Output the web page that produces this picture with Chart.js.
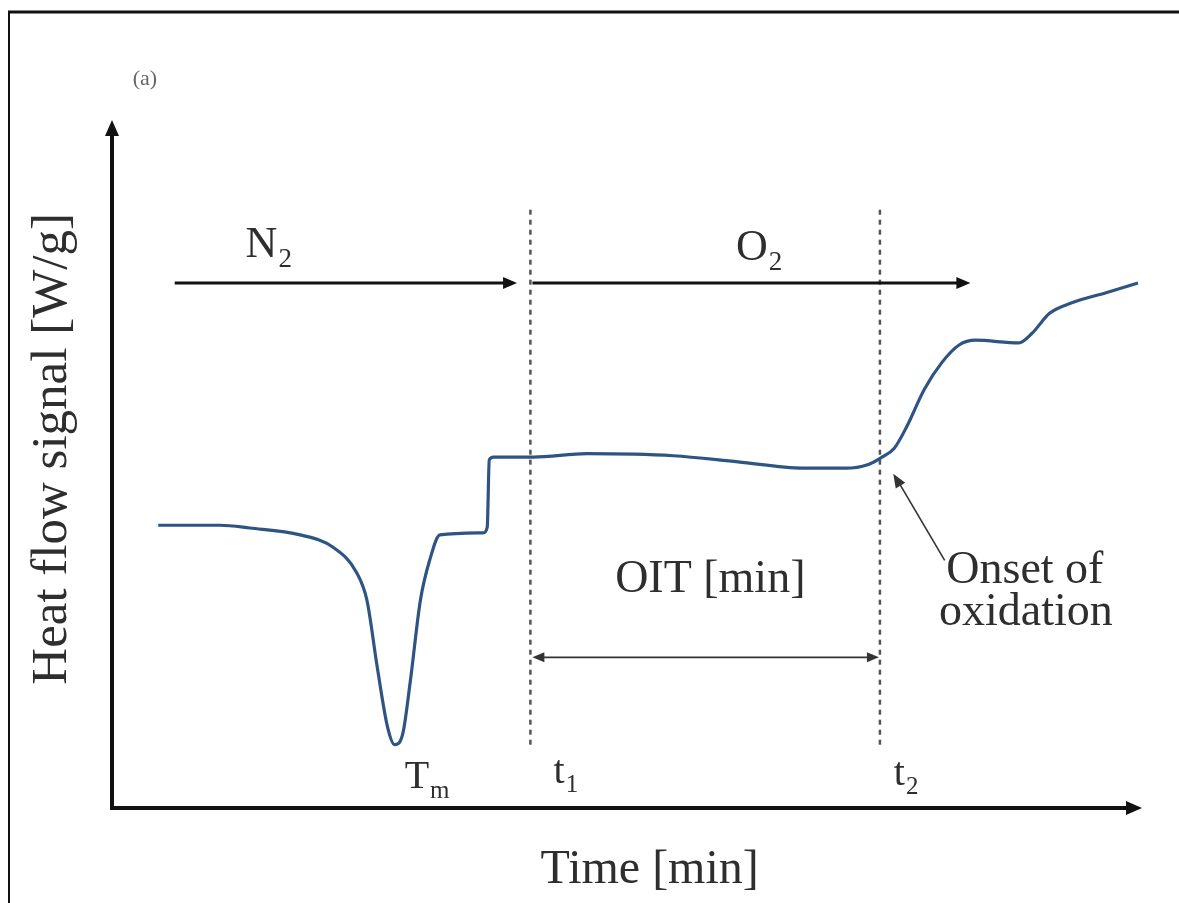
<!DOCTYPE html>
<html>
<head>
<meta charset="utf-8">
<script src="https://cdn.jsdelivr.net/npm/chart.js@4.4.1/dist/chart.umd.min.js"></script>
<style>
  html, body { margin: 0; padding: 0; background: #fff; }
  #box { width: 1179px; height: 903px; position: relative; }
</style>
</head>
<body>
<div id="box"><canvas id="myChart"></canvas></div>
<script>

//------------------------------------------------------------------
// data (time / heat flow, arbitrary units 0..100)

var time_vals = [4.5, 10.5, 13.4, 18.3, 21.5, 23.8, 24.8, 25.8, 26.8, 27.5, 28.3, 29.0, 30.0, 30.9, 31.9,
                 36.1, 36.5, 36.7, 37.1, 41.0, 46.2, 54.6, 60.9, 67.2, 71.4, 73.5, 74.8, 76.1, 77.3,
                 79.0, 80.7, 82.4, 84.0, 88.2, 89.5, 91.2, 93.3, 96.7, 99.8];
var heat_vals = [41.1, 41.1, 40.7, 39.7, 37.9, 34.2, 30.2, 20.5, 11.8, 9.2, 10.9, 18.2, 30.2, 36.0, 39.7,
                 40.0, 40.8, 50.6, 51.0, 51.0, 51.5, 51.2, 50.3, 49.4, 49.4, 49.9, 50.9, 52.3, 55.4,
                 60.8, 64.7, 67.3, 68.0, 67.6, 69.0, 71.9, 73.4, 74.9, 76.3];

var marker_times = [40.7, 74.7];     // t1, t2
var marker_span = [9.2, 87.2];       // dashed line from / to

var gas_arrows = [[6.1, 39.4, 76.3], [40.9, 83.5, 76.3]];   // [from, to, level]
var oit_level = 21.9;

var x_max = 100, y_max = 100;

//------------------------------------------------------------------

var serif = "'Liberation Serif', 'DejaVu Serif', serif";
var text_col = "#2e2e2e";

function make_points(xs, ys){
    let pts = [];
    for (let i = 0; i < xs.length; i++) {
        pts.push({x: xs[i], y: ys[i]});
    }
    return pts;
}

function arrow_head(ctx, x, y, ang, len, wid){
    ctx.save();
    ctx.translate(x, y);
    ctx.rotate(ang);
    ctx.beginPath();
    ctx.moveTo(0, 0);
    ctx.lineTo(-len, -wid/2);
    ctx.lineTo(-len, wid/2);
    ctx.closePath();
    ctx.fill();
    ctx.restore();
}

function draw_line(ctx, x1, y1, x2, y2, w){
    ctx.lineWidth = w;
    ctx.beginPath();
    ctx.moveTo(x1, y1);
    ctx.lineTo(x2, y2);
    ctx.stroke();
}

// text with a subscript, centred on x
function sub_text(ctx, main, sub, x, y, size){
    ctx.font = size + "px " + serif;
    let w1 = ctx.measureText(main).width;
    ctx.font = Math.round(size*0.62) + "px " + serif;
    let w2 = ctx.measureText(sub).width;
    let left = x - (w1 + w2)/2;
    ctx.textAlign = "left";
    ctx.textBaseline = "middle";
    ctx.font = size + "px " + serif;
    ctx.fillText(main, left, y);
    ctx.font = Math.round(size*0.62) + "px " + serif;
    ctx.fillText(sub, left + w1 + 1, y + size*0.34);
}

const sketch_plugin = {
    id: "sketch",
    afterDraw(chart){
        const ctx = chart.ctx;
        const xs = chart.scales.x, ys = chart.scales.y;
        const px = v => xs.getPixelForValue(v);
        const py = v => ys.getPixelForValue(v);

        ctx.save();
        ctx.strokeStyle = "#111";
        ctx.fillStyle = "#111";
        ctx.lineCap = "butt";

        // frame
        draw_line(ctx, 8, 12, 1179, 12, 3);
        draw_line(ctx, 9, 11, 9, 903, 2);

        // axes with arrows
        draw_line(ctx, px(0), py(0) + 2, px(0), py(y_max) + 12, 4);
        arrow_head(ctx, px(0), py(y_max), -Math.PI/2, 16, 14);
        draw_line(ctx, px(0) - 2, py(0), px(x_max) - 10, py(0), 4);
        arrow_head(ctx, px(x_max) + 2, py(0), 0, 16, 14);

        // N2 / O2 arrows
        for (let i = 0; i < gas_arrows.length; i++) {
            let a = gas_arrows[i];
            draw_line(ctx, px(a[0]), py(a[2]), px(a[1]) - 8, py(a[2]), 3);
            arrow_head(ctx, px(a[1]), py(a[2]), 0, 14, 12);
        }

        // OIT double arrow
        ctx.strokeStyle = "#333";
        ctx.fillStyle = "#333";
        draw_line(ctx, px(marker_times[0]) + 6, py(oit_level), px(marker_times[1]) - 6, py(oit_level), 1.6);
        arrow_head(ctx, px(marker_times[0]) + 2, py(oit_level), Math.PI, 12, 10);
        arrow_head(ctx, px(marker_times[1]) - 1, py(oit_level), 0, 12, 10);

        // onset pointer
        draw_line(ctx, px(81.0), py(36.0), px(76.0) + 5, py(48.6) + 8, 1.6);
        arrow_head(ctx, px(76.0), py(48.6), Math.atan2(-87, -52), 14, 11);

        // labels
        ctx.textAlign = "center";
        ctx.textBaseline = "middle";

        ctx.fillStyle = "#666";
        ctx.font = "22px " + serif;
        ctx.fillText("(a)", px(3.2), py(106.0));

        ctx.fillStyle = text_col;
        sub_text(ctx, "N", "2", px(15.2), py(81.8), 44);
        sub_text(ctx, "O", "2", px(62.9), py(81.4), 44);

        ctx.textAlign = "center";
        ctx.font = "46px " + serif;
        ctx.fillText("OIT [min]", px(58.2), py(33.1));
        ctx.fillText("Onset of", px(88.8), py(34.4));
        ctx.fillText("oxidation", px(88.9), py(28.3));

        sub_text(ctx, "t", "1", px(44.1), py(5.2), 40);
        sub_text(ctx, "t", "2", px(77.2), py(4.9), 40);
        sub_text(ctx, "T", "m", px(30.6), py(4.4), 40);

        // axis titles
        ctx.textAlign = "center";
        ctx.font = "48px " + serif;
        ctx.fillText("Time [min]", px(52.3), py(-9.0));
        ctx.font = "51px " + serif;
        ctx.save();
        ctx.translate(px(-5.8), py(52.2));
        ctx.rotate(-Math.PI/2);
        ctx.fillText("Heat flow signal [W/g]", 0, 0);
        ctx.restore();

        ctx.restore();
    }
};

//------------------------------------------------------------------

var datasets = [{
    label: "heat flow",
    data: make_points(time_vals, heat_vals),
    borderColor: "#2d5482",
    borderWidth: 3.2,
    pointRadius: 0,
    cubicInterpolationMode: "monotone",
    fill: false
}];

for (let i = 0; i < marker_times.length; i++) {
    datasets.push({
        label: "t" + (i+1),
        data: [{x: marker_times[i], y: marker_span[0]}, {x: marker_times[i], y: marker_span[1]}],
        borderColor: "#555",
        borderWidth: 2.5,
        borderDash: [5, 5],
        pointRadius: 0,
        fill: false
    });
}

const ctx = document.getElementById("myChart");

const dsc_chart = new Chart(ctx, {
    type: "line",
    data: { datasets: datasets },
    options: {
        responsive: true,
        maintainAspectRatio: false,
        animation: false,
        layout: { padding: { left: 112, right: 39, top: 120, bottom: 95 } },
        plugins: {
            legend: { display: false },
            tooltip: { enabled: false }
        },
        scales: {
            x: { type: "linear", min: 0, max: x_max, display: false },
            y: { type: "linear", min: 0, max: y_max, display: false }
        }
    },
    plugins: [sketch_plugin]
});

</script>
</body>
</html>
